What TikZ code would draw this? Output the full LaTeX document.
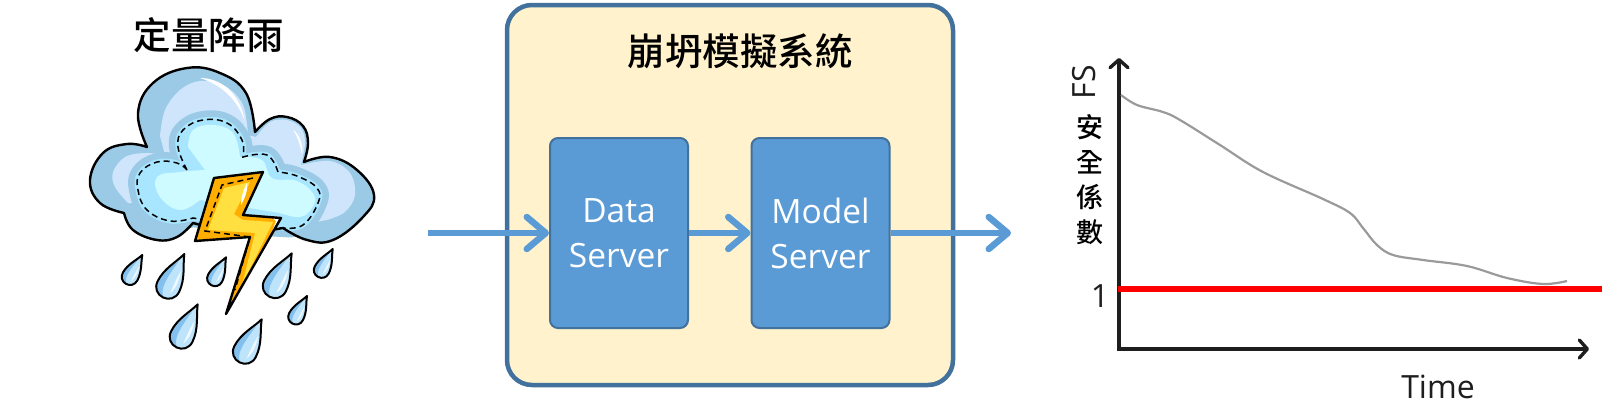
\documentclass[tikz,border=0pt]{standalone}
\usepackage{fontspec}
\setmainfont{Open Sans}
\newfontfamily\cjkfont{Noto Sans CJK TC}
\newfontfamily\cjkmed{Noto Sans CJK TC Medium}
\usetikzlibrary{arrows.meta}
\definecolor{boxblue}{HTML}{5B9BD5}
\definecolor{boxedge}{HTML}{41719C}
\definecolor{cream}{HTML}{FFF2CC}
\definecolor{cloudbase}{HTML}{9ACAE6}
\definecolor{cloudlight}{HTML}{CFE5FC}
\definecolor{cloudmid}{HTML}{A8E6FF}
\definecolor{cloudcore}{HTML}{CDFBFF}
\definecolor{boltorange}{HTML}{FFAE00}
\definecolor{boltyellow}{HTML}{FFE040}
\definecolor{dropfill}{HTML}{BDE4FB}
\definecolor{dropdark}{HTML}{84C0EE}
\definecolor{axisdark}{HTML}{1E1E1E}
\definecolor{curvegrey}{HTML}{9A9A9A}
\tikzset{
  outerbox/.style={draw=boxedge,fill=cream,line width=4.5pt,rounded corners=25pt,minimum width=446pt,minimum height=380pt},
  serverbox/.style={draw=boxedge,fill=boxblue,line width=2pt,rounded corners=8pt,minimum width=138pt,minimum height=190pt,text=white,align=center,font=\fontsize{33.5}{45}\selectfont,inner sep=0pt},
  flow/.style={draw=boxblue,line width=6pt,-{Straight Barb[length=19pt,width=32pt,line width=6.5pt,round]}},
  axisline/.style={draw=axisdark,line width=3.4pt,line join=miter,{Straight Barb[length=8pt,width=18pt,line width=3.4pt,round]}-{Straight Barb[length=8pt,width=18pt,line width=3.4pt,round]}},
  titletext/.style={font=\cjkmed\fontsize{37.5}{42}\selectfont,text=black,inner sep=0pt},
  fslabel/.style={font=\cjkmed\fontsize{27}{35}\selectfont,text=black,inner sep=0pt,align=center},
  charttext/.style={font=\fontsize{32}{36}\selectfont,text=axisdark,inner sep=0pt},
  inkline/.style={draw=black,line width=2.4pt,line join=round},
  dashink/.style={draw=black,line width=1.5pt,dash pattern=on 6pt off 4pt}
}
\newcommand{\rainDrop}[4]{%
  \pgfmathsetmacro{\dropAng}{atan2(-(#4-#2),(#3-#1))}%
  \pgfmathsetmacro{\dropLen}{veclen(#3-#1,#4-#2)}%
  \begin{scope}[shift={(#1,#2)},rotate=\dropAng,x=\dropLen pt,y=\dropLen pt]
    \fill[dropfill] (0,0) .. controls (.3,.1) and (.6,.33) .. (1,.33) .. controls (1.2,.33) and (1.33,.18) .. (1.33,0) .. controls (1.33,-.18) and (1.2,-.33) .. (1,-.33) .. controls (.6,-.33) and (.3,-.1) .. (0,0) -- cycle;
    \fill[dropdark] (.25,-.05) .. controls (.5,-.2) and (.7,-.3) .. (1,-.31) .. controls (1.2,-.31) and (1.31,-.15) .. (1.31,0) .. controls (1.15,-.18) and (.8,-.15) .. (.25,-.05) -- cycle;
    \fill[white!75!dropfill] (.45,.12) .. controls (.7,.2) and (.95,.22) .. (1.15,.12) .. controls (.95,.12) and (.7,.1) .. (.45,.12) -- cycle;
    \draw[inkline,line width=2pt] (0,0) .. controls (.3,.1) and (.6,.33) .. (1,.33) .. controls (1.2,.33) and (1.33,.18) .. (1.33,0) .. controls (1.33,-.18) and (1.2,-.33) .. (1,-.33) .. controls (.6,-.33) and (.3,-.1) .. (0,0) -- cycle;
  \end{scope}}
\newcommand{\cloudOutline}{plot[smooth,tension=.7] coordinates {(147,147) (138,113) (153,83) (187,68) (220,73) (246,93) (255,132)} -- plot[smooth,tension=.7] coordinates {(255,132) (270,119) (287,117) (303,126) (308,143) (304,162)} -- plot[smooth,tension=.7] coordinates {(304,162) (330,157) (357,170) (374,195) (363,217) (333,240) (307,240) (283,228)} -- plot[smooth,tension=.7] coordinates {(283,228) (240,232) (193,223)} -- plot[smooth,tension=.7] coordinates {(193,223) (177,237) (157,240) (133,230) (124,213)} -- plot[smooth,tension=.7] coordinates {(124,213) (100,203) (90,180) (103,153) (127,144) (147,147)} -- cycle}
\newcommand{\innerOutline}{plot[smooth,tension=.7] coordinates {(187,170) (178,147) (183,130) (203,120) (227,123) (242,140) (243,157)} -- plot[smooth,tension=.7] coordinates {(243,157) (267,155) (278,172)} -- plot[smooth,tension=.7] coordinates {(278,172) (297,176) (317,188) (318,203) (303,225) (283,228)} -- plot[smooth,tension=.7] coordinates {(283,228) (240,225) (193,218)} -- plot[smooth,tension=.7] coordinates {(193,218) (170,221) (147,210) (138,190) (140,173) (157,162) (177,163) (187,170)} -- cycle}
\begin{document}
\begin{tikzpicture}[x=1pt,y=-1pt]
\useasboundingbox (0,0) rectangle (1606,407);
% --- title left
\node[titletext] (raintitle) at (208.5,35) {定量降雨};
% --- cloud
\fill[cloudbase] \cloudOutline;
\fill[cloudlight] plot[smooth,tension=.6] coordinates {(160,136) (165,110) (180,90) (200,81) (225,86) (243,105) (248,135)} -- (256,137) -- plot[smooth,tension=.6] coordinates {(256,137) (270,122) (287,120) (301,128) (305,143) (301,165)} -- plot[smooth,tension=.6] coordinates {(301,165) (330,161) (350,173) (355,195) (345,212) (327,220)} -- (300,225) -- (160,205) -- (128,203) -- plot[smooth,tension=.6] coordinates {(128,203) (115,187) (113,172) (125,157) (145,153) (165,155)} -- cycle;
\fill[white] (200,78) .. controls (220,78) and (240,92) .. (245,122) .. controls (238,100) and (222,85) .. (200,78) -- cycle;
\fill[white] (293,130) .. controls (300,134) and (303,145) .. (302,154) .. controls (300,145) and (298,137) .. (293,130) -- cycle;
\filldraw[cloudbase,line width=18pt,line join=round] \innerOutline;
\filldraw[cloudmid,line width=5pt,line join=round] \innerOutline;
\fill[cloudcore] plot[smooth,tension=.7] coordinates {(188,147) (193,130) (213,125) (233,133) (240,157)} -- plot[smooth,tension=.7] coordinates {(240,157) (262,160) (272,178) (297,181) (314,195) (312,208) (300,217) (280,213)} -- (200,200) -- plot[smooth,tension=.7] coordinates {(200,200) (180,210) (160,197) (157,177) (180,172) (205,170)} -- cycle;
\draw[dashink] \innerOutline;
\draw[inkline] \cloudOutline;
% --- bolt
\path[fill=boltorange] (263,172) -- (214,178) -- (195,241) -- (250,237) -- (226,314) -- (281,218) -- (243,215) -- cycle;
\fill[boltyellow] (250,182) -- (224,188) -- (208,230) -- (255,233) -- (242,285) -- (273,222) -- (243,220) -- (234,214) -- cycle;
\fill[white] (272,217) -- (281,218) -- (272,232) -- (276,221) -- cycle;
\fill[white] (247,183) .. controls (243,190) and (241,198) .. (241,205) .. controls (245,198) and (248,190) .. (247,183) -- cycle;
\draw[dashink] (253,178) -- (222,185) -- (205,231) -- (250,237) -- (235,290);
\draw[inkline] (263,172) -- (214,178) -- (195,241) -- (250,237) -- (226,314) -- (281,218) -- (243,215) -- cycle;
% --- drops
\rainDrop{142.3}{255}{130}{276.7}
\rainDrop{184.3}{254}{168.3}{286.7}
\rainDrop{226}{257.3}{215}{278.3}
\rainDrop{291.7}{253.3}{275}{286}
\rainDrop{332.7}{249}{321.7}{270}
\rainDrop{197.7}{304.3}{181.7}{336.7}
\rainDrop{307}{296}{296}{316.7}
\rainDrop{261.7}{319.3}{245}{351.7}
% --- system
\node[outerbox] (system) at (730,195) {};
\node[titletext] (systitle) at (740,51) {崩坍模擬系統};
\node[serverbox] (data) at (619,233) {Data\\Server};
\node[serverbox] (model) at (820.5,233) {Model\\Server};
\coordinate (rainin) at (428,233);
\coordinate (fsout) at (1011,233);
\draw[flow] (rainin) -- (data.west);
\draw[flow] (data.east) -- (model.west);
\draw[flow] (model.east) -- (fsout);
% --- chart
\coordinate (ytip) at (1119,58);
\coordinate (origin) at (1119,349);
\coordinate (xtip) at (1589,349);
\coordinate (redstart) at (1118,289);
\coordinate (redend) at (1602,289);
\draw[axisline] (ytip) -- (origin) -- (xtip);
\draw[curvegrey,line width=2.2pt] plot[smooth,tension=.6] coordinates {(1121,95) (1137,105) (1163,112) (1180,120) (1220,145) (1263,172) (1323,199) (1350,213) (1363,228) (1377,245) (1393,255) (1423,260) (1467,266) (1507,278) (1543,284) (1567,281)};
\draw[red,line width=6pt] (redstart) -- (redend);
\node[charttext,rotate=90] (fslabeltext) at (1084,82) {FS};
\node[fslabel] (anchar) at (1090,127) {安};
\node[fslabel] (quanchar) at (1090,162) {全};
\node[fslabel] (xichar) at (1090,197) {係};
\node[fslabel] (shuchar) at (1090,232) {數};
\node[charttext,anchor=base] (onelabel) at (1100,307) {1};
\node[charttext,anchor=base] (timelabel) at (1438,398) {Time};
\end{tikzpicture}
\end{document}
